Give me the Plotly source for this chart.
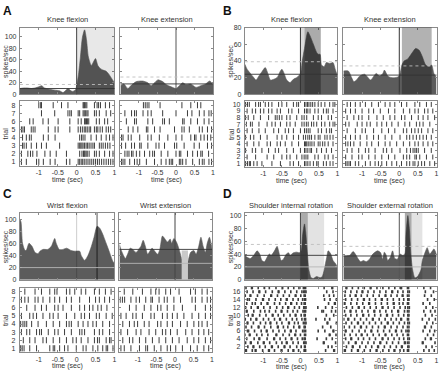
import plotly.graph_objects as go

W, H = 440, 373

# ------------------------------------------------------------------ data
# A: knee flexion / extension (PSTH time points in sec, rates in spikes/sec)
A_flex_t = [-1.5,-1.4,-1.3,-1.2,-1.1,-1.0,-0.93,-0.85,-0.75,-0.65,-0.55,-0.45,-0.36,-0.3,-0.23,-0.15,-0.1,-0.03,0.0,0.05,0.1,0.15,0.21,0.26,0.31,0.39,0.45,0.5,0.56,0.62,0.7,0.78,0.85,0.92,1.0]
A_flex_rate = [10,11,11,10,11,13,15,11,9,8,7,6,3,6,10,6,5,8,15,35,65,98,112,95,65,50,57,62,50,45,42,40,35,28,20]
A_ext_t = [-1.5,-1.41,-1.3,-1.2,-1.07,-0.9,-0.76,-0.67,-0.58,-0.49,-0.36,-0.27,-0.13,0.0,0.09,0.18,0.27,0.4,0.54,0.67,0.8,0.91,1.0]
A_ext_rate = [15,18,10,16,22,23,20,15,20,25,22,17,13,10,15,20,17,18,12,15,18,23,17]

# B: knee flexion / extension
B_flex_t = [-1.5,-1.44,-1.35,-1.26,-1.2,-1.12,-1.04,-0.95,-0.88,-0.81,-0.72,-0.63,-0.54,-0.5,-0.44,-0.37,-0.28,-0.19,-0.1,0.0,0.05,0.11,0.2,0.26,0.35,0.44,0.48,0.53,0.57,0.64,0.7,0.79,0.88,0.94,1.0]
B_flex_rate = [36,30,25,20,17,22,27,32,25,17,18,20,28,30,25,17,14,18,20,25,40,55,75,70,60,50,48,48,35,33,38,37,38,30,22]
B_ext_t = [-1.5,-1.37,-1.28,-1.22,-1.15,-1.06,-0.93,-0.84,-0.77,-0.68,-0.62,-0.53,-0.44,-0.4,-0.31,-0.22,-0.09,0.0,0.07,0.13,0.22,0.35,0.44,0.53,0.62,0.71,0.8,0.87,0.93,1.0]
B_ext_rate = [28,28,20,15,17,22,24,20,17,22,25,22,25,29,22,20,20,22,35,40,42,50,55,53,45,35,33,35,25,20]

# C: wrist flexion / extension
C_flex_t = [-1.5,-1.47,-1.43,-1.36,-1.32,-1.26,-1.18,-1.1,-1.02,-0.97,-0.89,-0.76,-0.67,-0.58,-0.54,-0.46,-0.36,-0.27,-0.14,-0.05,0.08,0.12,0.21,0.3,0.39,0.46,0.54,0.61,0.69,0.78,0.87,0.96,1.0]
C_flex_rate = [100,95,60,48,50,60,55,45,43,47,50,50,55,68,60,50,50,52,48,47,47,40,32,40,55,70,88,85,75,60,45,30,27]
C_ext_t = [-1.5,-1.46,-1.39,-1.34,-1.28,-1.21,-1.14,-1.05,-0.96,-0.92,-0.86,-0.8,-0.74,-0.7,-0.62,-0.56,-0.47,-0.41,-0.34,-0.28,-0.2,-0.13,-0.09,-0.03,0.04,0.11,0.18,0.24,0.29,0.35,0.42,0.51,0.57,0.64,0.7,0.76,0.82,0.87,0.93,0.98,1.0]
C_ext_rate = [58,50,40,35,42,52,50,45,52,55,65,55,42,45,52,48,42,50,72,68,62,67,60,68,62,50,35,25,23,30,45,48,42,55,70,55,45,60,70,58,50]

# D: shoulder internal / external rotation
D_int_t = [-1.5,-1.44,-1.35,-1.26,-1.17,-1.1,-1.04,-0.97,-0.9,-0.84,-0.79,-0.7,-0.63,-0.59,-0.52,-0.46,-0.38,-0.32,-0.28,-0.19,-0.1,-0.03,0.02,0.06,0.11,0.14,0.19,0.23,0.29,0.35,0.44,0.53,0.59,0.64,0.71,0.75,0.82,0.88,0.95,1.0]
D_int_rate = [38,35,33,38,45,40,30,28,35,40,38,45,52,45,30,32,40,42,38,42,43,42,45,70,87,75,40,15,3,2,5,3,5,15,35,45,40,30,25,20]
D_ext_t = [-1.5,-1.42,-1.33,-1.24,-1.18,-1.11,-1.04,-0.96,-0.89,-0.8,-0.71,-0.58,-0.5,-0.45,-0.4,-0.35,-0.31,-0.24,-0.18,-0.12,-0.05,0.02,0.09,0.15,0.18,0.23,0.27,0.31,0.36,0.42,0.49,0.58,0.62,0.71,0.75,0.82,0.89,0.93,1.0]
D_ext_rate = [37,37,38,44,40,33,28,30,28,32,40,45,42,32,43,38,30,35,45,33,32,40,38,40,70,100,80,40,15,3,5,15,30,45,50,40,45,48,40]

# horizontal reference lines (spikes/sec): (value, kind)  kind: 'mean' dark, 'dot' light dotted, 'light' light solid
A_flex_lines = [(10, 'mean'), (17, 'dot')]
A_ext_lines = [(18, 'mean'), (30, 'dot')]
B_flex_lines = [(24, 'mean'), (39, 'dot')]
B_ext_lines = [(23, 'mean'), (34, 'dot')]
C_flex_lines = [(20, 'light')]
C_ext_lines = [(50, 'mean'), (27, 'light')]
D_int_lines = [(38, 'mean'), (55, 'dot'), (20, 'light')]
D_ext_lines = [(37, 'mean'), (52, 'dot'), (20, 'light')]

# spike times per trial (trial 1 first)
A_flex_spikes = [
 [-1.46,-1.33,-1.06,-1.0,-0.88,-0.7,-0.57,-0.27,-0.18,0.04,0.08,0.12,0.16,0.2,0.25,0.3,0.35,0.4,0.45,0.5,0.55,0.6,0.66,0.72,0.78,0.84,0.9,0.96],
 [-1.46,-1.29,-1.22,-1.16,-1.05,-0.84,-0.7,-0.54,-0.27,0.08,0.14,0.18,0.2,0.22,0.25,0.28,0.33,0.47,0.52,0.6,0.74,0.87,0.96],
 [-1.43,-1.39,-1.33,-1.2,-1.06,-0.93,-0.8,-0.45,0.04,0.08,0.11,0.14,0.17,0.21,0.25,0.29,0.33,0.38,0.43,0.47,0.6,0.65,0.7,0.76,0.82,0.88],
 [-1.43,-1.33,-1.25,-1.2,-0.88,-0.75,-0.57,0.08,0.13,0.17,0.22,0.38,0.52,0.65,0.78,0.87,0.96],
 [-1.46,-1.42,-1.38,-1.2,-1.15,-1.1,-0.75,-0.57,-0.49,-0.18,0.04,0.1,0.15,0.2,0.24,0.28,0.33,0.37,0.47,0.52,0.56,0.62,0.68,0.78,0.84,0.9],
 [-1.24,-1.15,-0.89,-0.75,-0.49,-0.18,0.04,0.12,0.21,0.23,0.26,0.29,0.32,0.52,0.6,0.74,0.82],
 [-0.93,-0.58,-0.23,-0.18,-0.14,0.04,0.08,0.17,0.2,0.23,0.27,0.3,0.47,0.52,0.6,0.78,0.9],
 [-1.0,-0.95,-0.93,-0.62,-0.4,-0.23,0.17,0.19,0.21,0.24,0.27,0.47,0.54,0.58,0.63,0.76,0.87],
]
A_ext_spikes = [
 [-1.47,-1.43,-1.38,-1.25,-1.12,-1.05,-0.98,-0.8,-0.58,-0.4,-0.27,-0.18,-0.13,-0.09,0.09,0.13,0.18,0.27,0.45,0.63,0.71,0.76,0.89,0.96],
 [-1.38,-1.32,-1.27,-1.2,-1.16,-1.07,-0.98,-0.85,-0.71,-0.63,-0.58,-0.4,-0.22,0.0,0.09,0.13,0.31,0.45,0.58,0.67,0.71,0.88],
 [-1.47,-1.36,-1.2,-1.12,-0.98,-0.94,-0.76,-0.54,-0.46,-0.31,-0.04,0.02,0.22,0.49,0.63,0.85,0.96],
 [-1.47,-1.43,-1.29,-1.21,-0.98,-0.76,-0.67,-0.45,-0.22,0.0,0.16,0.4,0.5,0.54,0.67,0.76,0.85,0.94],
 [-1.29,-1.16,-1.03,-0.8,-0.76,-0.58,-0.43,-0.04,0.16,0.22,0.36,0.63,0.71,0.85,0.96],
 [-1.34,-1.12,-1.07,-0.76,-0.63,-0.36,-0.31,-0.18,0.18,0.22,0.4,0.58,0.76,0.89],
 [-1.38,-1.2,-1.12,-1.07,-0.89,-0.76,-0.67,-0.36,0.0,0.31,0.43,0.63,0.76,0.89,0.95],
 [-0.88,-0.83,-0.78,-0.73,-0.43,0.16,0.4,0.58,0.67],
]
B_flex_spikes = [
 [-1.48,-1.43,-1.38,-1.35,-1.26,-1.17,-1.04,-0.77,-0.54,-0.28,-0.19,-0.05,0.11,0.15,0.2,0.26,0.35,0.44,0.48,0.62,0.7,0.8,0.88],
 [-1.44,-1.21,-0.9,-0.72,-0.5,-0.37,-0.28,-0.1,0.04,0.1,0.15,0.2,0.39,0.48,0.66,0.75,0.88],
 [-1.48,-1.3,-1.21,-1.04,-0.86,-0.68,-0.59,-0.37,-0.19,0.0,0.11,0.15,0.2,0.26,0.3,0.44,0.57,0.7,0.84],
 [-1.44,-1.26,-1.12,-0.9,-0.81,-0.63,-0.54,-0.41,-0.23,-0.05,0.11,0.14,0.17,0.21,0.26,0.31,0.37,0.48,0.53,0.6,0.66,0.75,0.88],
 [-1.48,-1.35,-1.26,-1.08,-0.9,-0.63,-0.5,-0.37,-0.19,-0.05,0.08,0.14,0.2,0.25,0.3,0.39,0.48,0.53,0.66,0.72,0.8,0.88],
 [-1.44,-1.3,-1.12,-0.95,-0.72,-0.59,-0.41,-0.32,-0.19,0.0,0.11,0.16,0.21,0.26,0.48,0.57,0.7,0.79,0.84],
 [-1.46,-1.35,-1.3,-1.12,-0.9,-0.77,-0.68,-0.54,-0.37,-0.28,-0.14,0.04,0.1,0.16,0.21,0.3,0.36,0.44,0.57,0.66,0.79,0.88,0.93],
 [-1.48,-1.41,-1.26,-1.08,-0.86,-0.68,-0.63,-0.57,-0.5,-0.37,-0.28,-0.1,0.04,0.1,0.17,0.35,0.48,0.57,0.75,0.84],
 [-1.44,-1.3,-1.21,-1.08,-0.99,-0.86,-0.77,-0.63,-0.54,-0.32,-0.23,-0.05,0.11,0.16,0.2,0.26,0.39,0.48,0.62,0.7,0.75,0.88],
 [-1.48,-1.43,-1.38,-1.21,-1.13,-1.08,-0.95,-0.86,-0.77,-0.59,-0.5,-0.37,-0.19,-0.1,-0.05,0.11,0.15,0.19,0.23,0.28,0.33,0.39,0.48,0.56,0.66,0.79,0.88,0.93],
]
B_ext_spikes = [
 [-1.44,-1.4,-1.35,-1.31,-1.18,-1.09,-0.91,-0.78,-0.65,-0.56,-0.47,-0.34,-0.2,-0.07,0.06,0.2,0.28,0.37,0.42,0.51,0.6,0.68,0.82,0.95],
 [-1.44,-1.27,-1.09,-1.0,-0.82,-0.65,-0.47,-0.29,-0.12,0.11,0.2,0.28,0.42,0.46,0.55,0.73,0.9],
 [-1.4,-1.27,-1.09,-0.91,-0.82,-0.65,-0.43,-0.34,-0.2,0.02,0.2,0.3,0.37,0.42,0.46,0.51,0.68,0.86],
 [-1.44,-1.38,-1.31,-1.22,-1.05,-0.87,-0.74,-0.56,-0.38,-0.25,-0.07,0.11,0.28,0.42,0.51,0.64,0.77,0.9],
 [-1.44,-1.31,-1.18,-1.05,-0.87,-0.69,-0.56,-0.38,-0.2,0.02,0.2,0.28,0.37,0.46,0.55,0.64,0.73,0.86],
 [-1.4,-1.18,-1.0,-0.91,-0.69,-0.47,-0.29,-0.12,0.11,0.2,0.33,0.42,0.51,0.6,0.77,0.9],
 [-1.44,-1.35,-1.13,-1.0,-0.87,-0.78,-0.6,-0.47,-0.34,-0.2,-0.03,0.15,0.28,0.46,0.55,0.64,0.82],
 [-1.4,-1.22,-1.09,-1.0,-0.82,-0.6,-0.43,-0.25,-0.12,0.06,0.15,0.33,0.51,0.64,0.77,0.95],
 [-1.44,-1.31,-1.18,-1.0,-0.82,-0.69,-0.51,-0.29,-0.12,0.11,0.28,0.42,0.51,0.68,0.77,0.9],
 [-1.4,-1.31,-1.18,-1.05,-0.91,-0.74,-0.56,-0.38,-0.25,-0.12,0.06,0.2,0.42,0.55,0.73,0.86],
]
C_flex_spikes = [
 [-1.48,-1.44,-1.39,-1.24,-1.06,-0.71,-0.62,-0.58,-0.45,-0.32,-0.23,-0.01,0.17,0.25,0.43,0.56,0.69,0.78,0.82,0.96],
 [-1.41,-1.24,-1.1,-0.89,-0.8,-0.62,-0.45,-0.27,-0.1,-0.01,0.12,0.3,0.47,0.55,0.6,0.78,0.87,0.91],
 [-1.46,-1.32,-1.24,-1.06,-0.98,-0.93,-0.75,-0.58,-0.49,-0.32,-0.14,0.08,0.14,0.21,0.47,0.6,0.69,0.87],
 [-1.48,-1.42,-1.37,-1.32,-1.19,-1.02,-0.8,-0.62,-0.45,-0.27,-0.2,-0.14,0.04,0.17,0.3,0.43,0.52,0.69,0.87],
 [-1.46,-1.24,-1.15,-1.06,-0.89,-0.71,-0.62,-0.49,-0.27,-0.05,0.12,0.21,0.34,0.52,0.6,0.78,0.94],
 [-1.32,-1.1,-0.93,-0.8,-0.58,-0.49,-0.36,-0.14,0.08,0.21,0.34,0.43,0.56,0.65,0.8],
 [-1.46,-1.37,-1.28,-1.1,-1.02,-0.89,-0.71,-0.58,-0.45,-0.27,-0.14,0.08,0.34,0.5,0.6,0.74,0.87],
 [-1.37,-1.1,-0.93,-0.71,-0.58,-0.52,-0.27,-0.18,-0.05,0.12,0.24,0.47,0.6,0.76,0.91],
]
C_ext_spikes = [
 [-1.46,-1.37,-1.19,-0.96,-0.79,-0.74,-0.56,-0.38,-0.21,-0.12,0.02,0.2,0.42,0.6,0.78,0.91],
 [-1.41,-1.23,-1.14,-0.96,-0.79,-0.61,-0.43,-0.25,-0.07,0.11,0.33,0.51,0.64,0.82,0.96],
 [-1.46,-1.28,-1.05,-0.92,-0.7,-0.52,-0.34,-0.25,-0.12,0.06,0.29,0.46,0.64,0.78,0.91],
 [-1.41,-1.23,-1.1,-1.01,-0.83,-0.7,-0.47,-0.38,-0.21,-0.07,0.15,0.33,0.51,0.64,0.73,0.87],
 [-1.46,-1.32,-1.14,-1.05,-0.88,-0.65,-0.56,-0.34,-0.21,-0.07,0.06,0.24,0.46,0.64,0.82,0.96],
 [-1.23,-1.05,-0.83,-0.65,-0.47,-0.38,-0.21,-0.03,0.2,0.55,0.82,0.96],
 [-1.48,-1.42,-1.36,-1.19,-1.05,-0.96,-0.79,-0.65,-0.61,-0.43,-0.29,-0.21,-0.03,0.15,0.46,0.55,0.73,0.87,0.96],
 [-1.37,-1.14,-0.88,-0.65,-0.52,-0.43,-0.25,-0.12,0.11,0.42,0.55,0.73,0.87],
]
D_int_spikes = [
 [-1.49,-1.46,-1.3,-1.22,-1.2,-1.02,-0.86,-0.84,-0.7,-0.52,-0.5,-0.33,-0.2,-0.18,-0.05,0.1,0.12,0.14,0.68,0.9,0.92],
 [-1.42,-1.28,-1.26,-1.1,-0.95,-0.78,-0.76,-0.6,-0.44,-0.42,-0.28,-0.1,0.02,0.11,0.13,0.75,0.85],
 [-1.48,-1.35,-1.33,-1.15,-1.0,-0.98,-0.83,-0.65,-0.5,-0.38,-0.36,-0.2,-0.06,0.09,0.12,0.15,0.62,0.64,0.95],
 [-1.45,-1.25,-1.12,-1.1,-0.9,-0.72,-0.7,-0.55,-0.4,-0.25,-0.23,-0.08,0.05,0.1,0.13,0.45,0.7,0.86],
 [-1.5,-1.38,-1.36,-1.18,-1.04,-0.88,-0.66,-0.64,-0.47,-0.3,-0.15,-0.13,0.0,0.11,0.14,0.78,0.8,0.96],
 [-1.43,-1.4,-1.24,-1.06,-0.92,-0.9,-0.74,-0.58,-0.42,-0.27,-0.25,-0.12,0.06,0.1,0.14,0.48,0.66,0.88,0.9],
 [-1.47,-1.32,-1.14,-1.12,-0.97,-0.8,-0.62,-0.6,-0.46,-0.34,-0.18,-0.04,-0.02,0.1,0.13,0.6,0.82],
 [-1.44,-1.42,-1.27,-1.08,-0.94,-0.82,-0.8,-0.64,-0.5,-0.32,-0.3,-0.16,-0.06,0.08,0.12,0.15,0.72,0.74,0.97],
 [-1.49,-1.34,-1.2,-1.18,-1.0,-0.86,-0.7,-0.56,-0.54,-0.38,-0.22,-0.1,0.04,0.11,0.14,0.42,0.66,0.79],
 [-1.41,-1.3,-1.28,-1.1,-0.93,-0.76,-0.74,-0.6,-0.45,-0.28,-0.14,-0.12,0.02,0.1,0.13,0.7,0.9],
 [-1.46,-1.44,-1.26,-1.08,-0.96,-0.84,-0.67,-0.52,-0.5,-0.35,-0.2,-0.08,0.07,0.11,0.14,0.58,0.62,0.84,0.95],
 [-1.48,-1.33,-1.16,-1.14,-0.99,-0.82,-0.64,-0.48,-0.34,-0.32,-0.16,-0.03,0.09,0.12,0.15,0.47,0.68,0.86],
 [-1.45,-1.3,-1.22,-1.06,-0.9,-0.88,-0.7,-0.56,-0.4,-0.26,-0.24,-0.1,0.03,0.1,0.13,0.76,0.92,0.94],
 [-1.43,-1.38,-1.2,-1.02,-1.0,-0.85,-0.68,-0.53,-0.38,-0.36,-0.2,-0.06,0.06,0.11,0.14,0.65,0.8,0.97],
 [-1.49,-1.36,-1.34,-1.16,-0.98,-0.8,-0.78,-0.62,-0.46,-0.3,-0.14,-0.12,0.01,0.1,0.13,0.63,0.78,0.9],
 [-1.44,-1.28,-1.12,-1.1,-0.94,-0.76,-0.6,-0.58,-0.42,-0.26,-0.1,0.04,0.09,0.12,0.15,0.71,0.88],
 [-1.47,-1.32,-1.3,-1.14,-0.97,-0.84,-0.66,-0.5,-0.48,-0.33,-0.18,-0.04,0.08,0.11,0.14,0.64,0.85,0.87],
]
D_ext_spikes = [
 [-1.48,-1.45,-1.28,-1.12,-1.1,-0.94,-0.78,-0.62,-0.6,-0.44,-0.28,-0.14,-0.12,0.02,0.12,0.22,0.25,0.66,0.8,0.94],
 [-1.42,-1.26,-1.24,-1.06,-0.9,-0.74,-0.58,-0.56,-0.4,-0.24,-0.08,0.06,0.08,0.23,0.26,0.72,0.88],
 [-1.5,-1.36,-1.18,-1.16,-1.0,-0.84,-0.68,-0.52,-0.5,-0.34,-0.18,-0.02,0.14,0.16,0.22,0.26,0.62,0.64,0.96],
 [-1.44,-1.3,-1.28,-1.1,-0.96,-0.8,-0.64,-0.46,-0.44,-0.3,-0.14,0.0,0.12,0.23,0.27,0.7,0.84,0.86],
 [-1.47,-1.32,-1.16,-1.02,-1.0,-0.86,-0.7,-0.54,-0.38,-0.36,-0.2,-0.06,0.1,0.22,0.25,0.76,0.92],
 [-1.45,-1.43,-1.26,-1.08,-0.92,-0.76,-0.74,-0.58,-0.42,-0.26,-0.1,-0.08,0.06,0.18,0.23,0.26,0.64,0.82,0.95],
 [-1.48,-1.34,-1.2,-1.04,-1.02,-0.88,-0.72,-0.56,-0.4,-0.38,-0.22,-0.06,0.1,0.22,0.26,0.68,0.7,0.86],
 [-1.43,-1.28,-1.12,-1.1,-0.96,-0.8,-0.64,-0.48,-0.32,-0.3,-0.16,0.0,0.14,0.23,0.27,0.74,0.9],
 [-1.49,-1.38,-1.36,-1.2,-1.04,-0.88,-0.72,-0.7,-0.54,-0.38,-0.22,-0.08,0.04,0.06,0.22,0.25,0.62,0.8,0.97],
 [-1.44,-1.3,-1.14,-0.98,-0.96,-0.82,-0.66,-0.5,-0.34,-0.32,-0.18,-0.02,0.12,0.23,0.26,0.7,0.88],
 [-1.47,-1.32,-1.3,-1.16,-1.0,-0.84,-0.68,-0.66,-0.52,-0.36,-0.2,-0.04,-0.02,0.14,0.22,0.26,0.66,0.84,0.96],
 [-1.42,-1.26,-1.1,-1.08,-0.94,-0.78,-0.62,-0.46,-0.44,-0.3,-0.14,0.02,0.16,0.23,0.27,0.72,0.9],
 [-1.48,-1.46,-1.3,-1.14,-0.98,-0.82,-0.8,-0.64,-0.48,-0.32,-0.16,-0.14,0.0,0.1,0.22,0.25,0.64,0.82],
 [-1.44,-1.28,-1.12,-0.96,-0.94,-0.8,-0.64,-0.48,-0.46,-0.32,-0.16,0.0,0.12,0.23,0.26,0.76,0.94],
 [-1.46,-1.32,-1.18,-1.16,-1.02,-0.86,-0.7,-0.54,-0.38,-0.36,-0.22,-0.06,0.08,0.1,0.22,0.26,0.68,0.86],
 [-1.45,-1.3,-1.14,-1.0,-0.98,-0.84,-0.68,-0.52,-0.36,-0.2,-0.18,-0.04,0.1,0.23,0.27,0.7,0.92],
 [-1.43,-1.41,-1.26,-1.1,-0.94,-0.78,-0.76,-0.6,-0.44,-0.28,-0.12,0.04,0.06,0.22,0.25,0.66,0.84],
]

time_ticks = [-1, -0.5, 0, 0.5, 1]
time_labels = ['-1', '-0.5', '0', '0.5', '1']
rate_ticks_100 = [0, 20, 40, 60, 80, 100]
rate_ticks_80 = [0, 20, 40, 60, 80]

# ------------------------------------------------------------------ panel table
FILL = '#5c5c5c'
panels = [
    dict(title='Knee flexion', x=(20, 115), py=(24, 92), ry=(99, 165), ymax=116, yt=rate_ticks_100,
         t=A_flex_t, r=A_flex_rate, sp=A_flex_spikes, rr=(0.5, 8.5), rt=list(range(1, 9)), left=True,
         lines=A_flex_lines, bands=[(0, 1, 'rgba(0,0,0,0.09)')], boxes=[], v0='#444', lw=1.0),
    dict(title='Knee extension', x=(121, 214), py=(24, 92), ry=(99, 165), ymax=116, yt=rate_ticks_100,
         t=A_ext_t, r=A_ext_rate, sp=A_ext_spikes, rr=(0.5, 8.5), rt=list(range(1, 9)), left=False,
         lines=A_ext_lines, bands=[], boxes=[], v0='#555', lw=1.0),
    dict(title='Knee flexion', x=(246, 339), py=(24, 92), ry=(99, 166), ymax=80, yt=rate_ticks_80,
         t=B_flex_t, r=B_flex_rate, sp=B_flex_spikes, rr=(0.5, 10.5), rt=list(range(1, 11)), left=True,
         lines=B_flex_lines, bands=[(0.0, 0.11, 'rgba(0,0,0,0.14)'), (0.11, 0.55, 'rgba(0,0,0,0.33)')], boxes=[],
         v0='#333', lw=1.0),
    dict(title='Knee extension', x=(345, 438.5), py=(24, 92), ry=(99, 166), ymax=80, yt=rate_ticks_80,
         t=B_ext_t, r=B_ext_rate, sp=B_ext_spikes, rr=(0.5, 10.5), rt=list(range(1, 11)), left=False,
         lines=B_ext_lines, bands=[(0.07, 0.87, 'rgba(0,0,0,0.3)')], boxes=[], v0='#333', lw=1.0),
    dict(title='Wrist flexion', x=(20, 115), py=(213, 281), ry=(289, 355), ymax=110, yt=rate_ticks_100,
         t=C_flex_t, r=C_flex_rate, sp=C_flex_spikes, rr=(0.5, 8.5), rt=list(range(1, 9)), left=True,
         lines=C_flex_lines, bands=[(0.52, 0.56, 'rgba(0,0,0,0.45)')], boxes=[], v0='rgba(0,0,0,0.2)', lw=1.0),
    dict(title='Wrist extension', x=(120, 213), py=(213, 281), ry=(289, 355), ymax=110, yt=rate_ticks_100,
         t=C_ext_t, r=C_ext_rate, sp=C_ext_spikes, rr=(0.5, 8.5), rt=list(range(1, 9)), left=False,
         lines=C_ext_lines, bands=[], boxes=[(0.18, 0.35, 0, 48, '#c9c9c9')], v0='#444', lw=1.0),
    dict(title='Shoulder internal rotation', x=(246, 339), py=(213, 281), ry=(288, 356), ymax=104, yt=rate_ticks_100,
         t=D_int_t, r=D_int_rate, sp=D_int_spikes, rr=(0.3, 17.3), rt=list(range(2, 17, 2)), left=True,
         lines=D_int_lines, bands=[(0.0, 0.2, 'rgba(0,0,0,0.33)'), (0.2, 0.64, 'rgba(0,0,0,0.11)')], boxes=[],
         v0='#444', lw=1.6),
    dict(title='Shoulder external rotation', x=(345, 438.5), py=(213, 281), ry=(288, 356), ymax=104, yt=rate_ticks_100,
         t=D_ext_t, r=D_ext_rate, sp=D_ext_spikes, rr=(0.3, 17.3), rt=list(range(2, 17, 2)), left=False,
         lines=D_ext_lines, bands=[(0.15, 0.33, 'rgba(0,0,0,0.33)'), (0.33, 0.62, 'rgba(0,0,0,0.11)')], boxes=[],
         v0='#555', lw=1.6),
]

FONT = 'Liberation Sans, Arial, sans-serif'
TXT = '#333'
LINE_STYLE = {'mean': dict(color='#333', width=0.9),
              'dot': dict(color='#bdbdbd', width=0.9, dash='dot'),
              'light': dict(color='#b5b5b5', width=0.9)}


def xd(a, b):
    return [a / W, b / W]


def yd(top, bottom):
    return [1 - bottom / H, 1 - top / H]


fig = go.Figure()
layout = dict(width=W, height=H, margin=dict(l=0, r=0, t=0, b=0), paper_bgcolor='white',
              plot_bgcolor='white', showlegend=False, font=dict(family=FONT, size=7, color=TXT))
shapes = []
annotations = []

axis_common = dict(showgrid=False, zeroline=False, showline=True, mirror='ticks', linecolor='#8a8a8a',
                   linewidth=1, ticks='inside', ticklen=2, tickcolor='#8a8a8a',
                   tickfont=dict(size=7, color=TXT, family=FONT))

for i, p in enumerate(panels):
    ip, ir = 2 * i + 1, 2 * i + 2
    sp_ = '' if ip == 1 else str(ip)
    sr_ = str(ir)
    layout['xaxis' + sp_] = dict(axis_common, domain=xd(*p['x']), range=[-1.5, 1], tickvals=time_ticks,
                                 showticklabels=False, anchor='y' + sp_)
    layout['yaxis' + sp_] = dict(axis_common, domain=yd(*p['py']), range=[0, p['ymax']], tickvals=p['yt'],
                                 showticklabels=p['left'], anchor='x' + sp_, ticklabelstandoff=1)
    layout['xaxis' + sr_] = dict(axis_common, domain=xd(*p['x']), range=[-1.5, 1], tickvals=time_ticks,
                                 ticktext=time_labels, showticklabels=True, anchor='y' + sr_,
                                 ticklabelstandoff=0)
    layout['yaxis' + sr_] = dict(axis_common, domain=yd(*p['ry']), range=list(p['rr']), tickvals=p['rt'],
                                 showticklabels=p['left'], anchor='x' + sr_, ticklabelstandoff=2)

    xr, yr = 'x' + sp_, 'y' + sp_
    fig.add_trace(go.Scatter(x=p['t'], y=p['r'], mode='lines', fill='tozeroy', fillcolor=FILL,
                             line=dict(color=FILL, width=0.6, shape='spline', smoothing=0.7),
                             xaxis=xr, yaxis=yr, hoverinfo='skip'))
    for (a, b, col) in p['bands']:
        shapes.append(dict(type='rect', xref=xr, yref=yr + ' domain', x0=a, x1=b, y0=0, y1=1,
                           fillcolor=col, line=dict(width=0), layer='above'))
    for (a, b, y0, y1, col) in p['boxes']:
        shapes.append(dict(type='rect', xref=xr, yref=yr, x0=a, x1=b, y0=y0, y1=y1,
                           fillcolor=col, line=dict(width=0), layer='above'))
    shapes.append(dict(type='line', xref=xr, yref=yr + ' domain', x0=0, x1=0, y0=0, y1=1,
                       line=dict(color=p['v0'], width=1), layer='above'))
    for val, kind in p['lines']:
        shapes.append(dict(type='line', xref=xr + ' domain', yref=yr, x0=0, x1=1, y0=val, y1=val,
                           line=LINE_STYLE[kind], layer='above'))

    xs, ys = [], []
    for k, trial in enumerate(p['sp'], start=1):
        for s in trial:
            xs += [s, s, None]
            ys += [k - 0.38, k + 0.38, None]
    fig.add_trace(go.Scatter(x=xs, y=ys, mode='lines', line=dict(color='#3c3c3c', width=p['lw']),
                             xaxis='x' + sr_, yaxis='y' + sr_, hoverinfo='skip'))

    cx = (p['x'][0] + p['x'][1]) / 2
    annotations.append(dict(text=p['title'], x=cx / W, y=1 - (p['py'][0] - 8) / H, xref='paper', yref='paper',
                            showarrow=False, xanchor='center', yanchor='middle', font=dict(size=7.5, color=TXT)))
    annotations.append(dict(text='time (sec)', x=cx / W, y=1 - (p['ry'][1] + 14) / H, xref='paper', yref='paper',
                            showarrow=False, xanchor='center', yanchor='middle', font=dict(size=7, color=TXT)))
    if p['left']:
        lx = p['x'][0] - 14
        annotations.append(dict(text='spikes/sec', x=lx / W, y=1 - ((p['py'][0] + p['py'][1]) / 2) / H,
                                xref='paper', yref='paper', showarrow=False, textangle=-90,
                                xanchor='center', yanchor='middle', font=dict(size=7, color=TXT)))
        annotations.append(dict(text='trial', x=lx / W, y=1 - ((p['ry'][0] + p['ry'][1]) / 2) / H,
                                xref='paper', yref='paper', showarrow=False, textangle=-90,
                                xanchor='center', yanchor='middle', font=dict(size=7, color=TXT)))

for letter, (lx, ly) in zip(['A', 'B', 'C', 'D'], [(1, 7), (222, 7), (1, 194), (222, 194)]):
    annotations.append(dict(text='<b>' + letter + '</b>', x=lx / W, y=1 - ly / H, xref='paper', yref='paper',
                            showarrow=False, xanchor='left', yanchor='middle',
                            font=dict(size=12, color='#111', family='Liberation Sans, Arial')))

layout['shapes'] = shapes
layout['annotations'] = annotations
fig.update_layout(**layout)
fig.write_html('out.html', config={'displayModeBar': False},
               post_script="document.body.style.margin='0';document.body.style.overflow='hidden';")
